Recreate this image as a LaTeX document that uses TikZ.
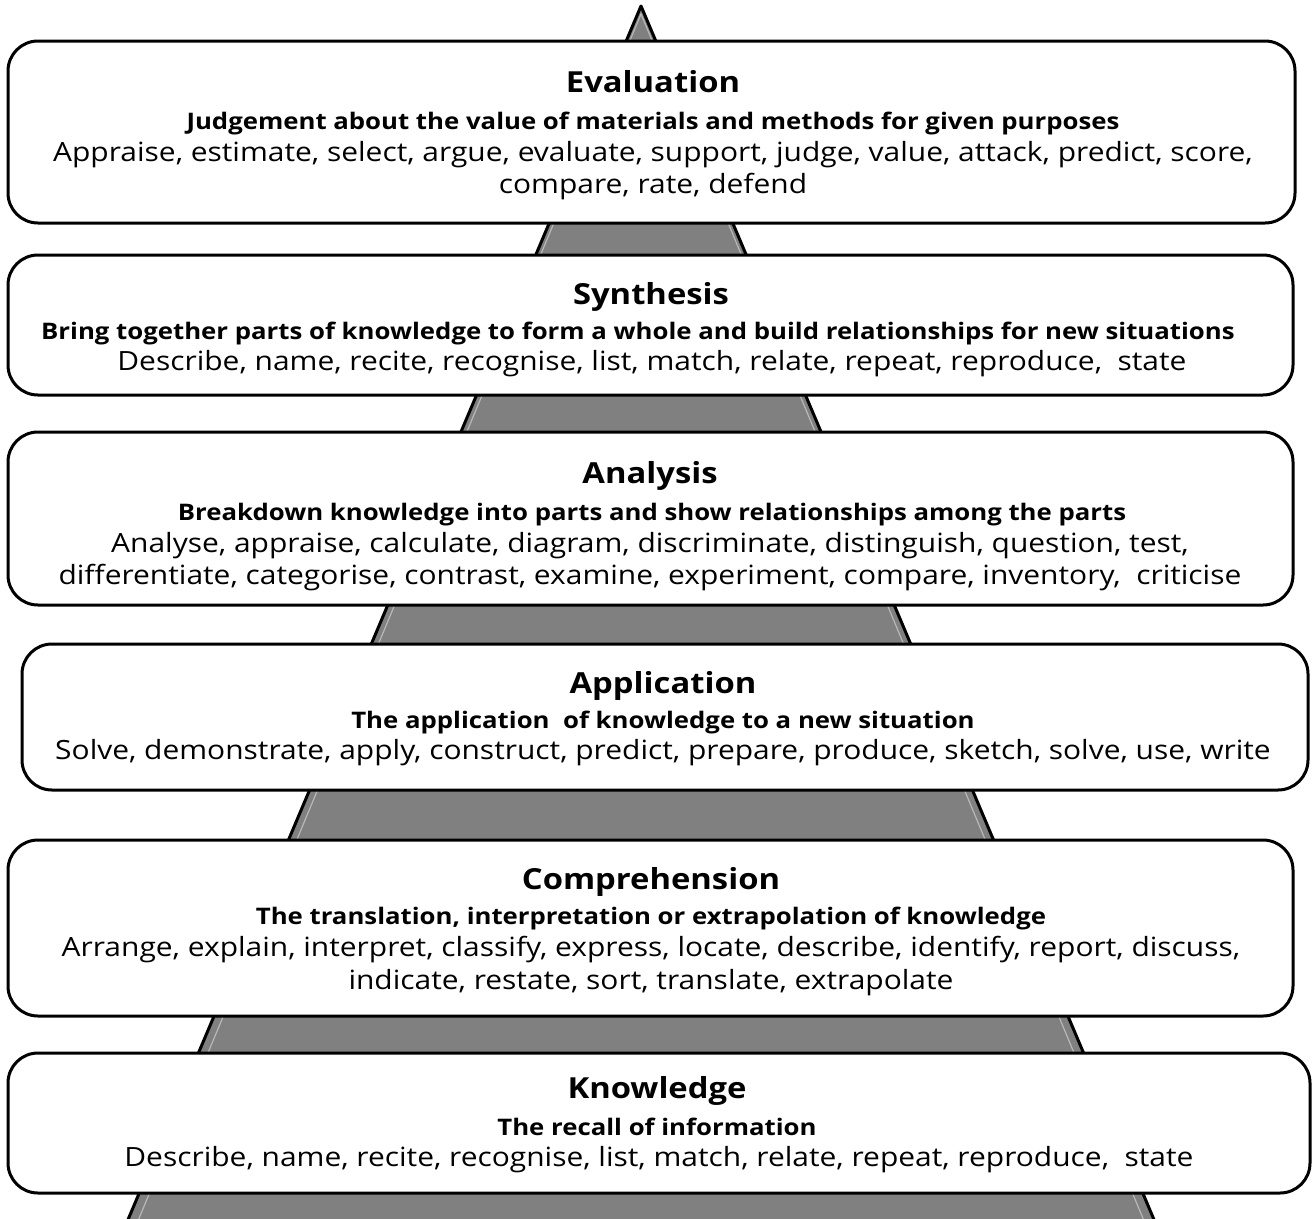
\documentclass[tikz,border=0pt]{standalone}
\usepackage{fontspec}
\setmainfont{Open Sans}[FakeStretch=1.13]
\begin{document}
\begin{tikzpicture}[x=1pt,y=-1pt,
  level/.style={draw=black, line width=3pt, fill=white, rounded corners=30pt,
    inner sep=0pt, outer sep=0pt},
  title/.style={anchor=base, inner sep=0pt, font=\fontsize{29}{35}\selectfont\bfseries},
  subtitle/.style={anchor=base, inner sep=0pt, font=\fontsize{22.8}{27}\selectfont\bfseries},
  verbs/.style={anchor=base, inner sep=0pt, font=\fontsize{26.5}{32}\selectfont},
  pyramid/.style={fill=black!50, draw=black, line width=3pt, line join=round},
  bevel/.style={draw=black!28, line width=1.2pt}
]
\useasboundingbox (0,0) rectangle (1313,1218);
\begin{scope}
\clip (0,0) rectangle (1313,1218);
% the pyramid standing behind the levels
\coordinate (apex) at (641,6);
\coordinate (baseL) at (127,1222);
\coordinate (baseR) at (1155,1222);
\draw[pyramid] (apex) -- (baseR) -- (baseL) -- cycle;
\draw[bevel] (641,14) -- (1147,1228) -- (135,1228) -- cycle;
\end{scope}

% levels, from the top down
\node[level, minimum width=1287pt, minimum height=182pt] (evaluation) at (651.5,132) {};
\node[level, minimum width=1285pt, minimum height=140pt] (synthesis) at (650.5,325) {};
\node[level, minimum width=1285pt, minimum height=173pt] (analysis) at (650.5,518.5) {};
\node[level, minimum width=1286pt, minimum height=146pt] (application) at (665,717) {};
\node[level, minimum width=1285pt, minimum height=176pt] (comprehension) at (650.5,928) {};
\node[level, minimum width=1302pt, minimum height=140pt] (knowledge) at (659,1123) {};

% Evaluation
\node[title] (evaluation-t) at (653,92) {Evaluation};
\node[subtitle] (evaluation-s) at (653,129) {Judgement about the value of materials and methods for given purposes};
\node[verbs] (evaluation-v1) at (653,161) {Appraise, estimate, select, argue, evaluate, support, judge, value, attack, predict, score,};
\node[verbs] (evaluation-v2) at (653,193) {compare, rate, defend};

% Synthesis
\node[title] (synthesis-t) at (651,304) {Synthesis};
\node[subtitle] (synthesis-s) at (638,339) {Bring together parts of knowledge to form a whole and build relationships for new situations};
\node[verbs] (synthesis-v1) at (652,370) {Describe, name, recite, recognise, list, match, relate, repeat, reproduce, \ state};

% Analysis
\node[title] (analysis-t) at (650,483) {Analysis};
\node[subtitle] (analysis-s) at (652,520) {Breakdown knowledge into parts and show relationships among the parts};
\node[verbs] (analysis-v1) at (650,552) {Analyse, appraise, calculate, diagram, discriminate, distinguish, question, test,};
\node[verbs] (analysis-v2) at (650,584) {differentiate, categorise, contrast, examine, experiment, compare, inventory, \ criticise};

% Application
\node[title] (application-t) at (663,693) {Application};
\node[subtitle] (application-s) at (663,728) {The application\ \ of knowledge to a new situation};
\node[verbs] (application-v1) at (663,759) {Solve, demonstrate, apply, construct, predict, prepare, produce, sketch, solve, use, write};

% Comprehension
\node[title] (comprehension-t) at (651,889) {Comprehension};
\node[subtitle] (comprehension-s) at (651,924) {The translation, interpretation or extrapolation of knowledge};
\node[verbs] (comprehension-v1) at (651,956) {Arrange, explain, interpret, classify, express, locate, describe, identify, report, discuss,};
\node[verbs] (comprehension-v2) at (651,989) {indicate, restate, sort, translate, extrapolate};

% Knowledge
\node[title] (knowledge-t) at (657,1098) {Knowledge};
\node[subtitle] (knowledge-s) at (657,1135) {The recall of information};
\node[verbs] (knowledge-v1) at (659,1166) {Describe, name, recite, recognise, list, match, relate, repeat, reproduce, \ state};
\end{tikzpicture}
\end{document}
